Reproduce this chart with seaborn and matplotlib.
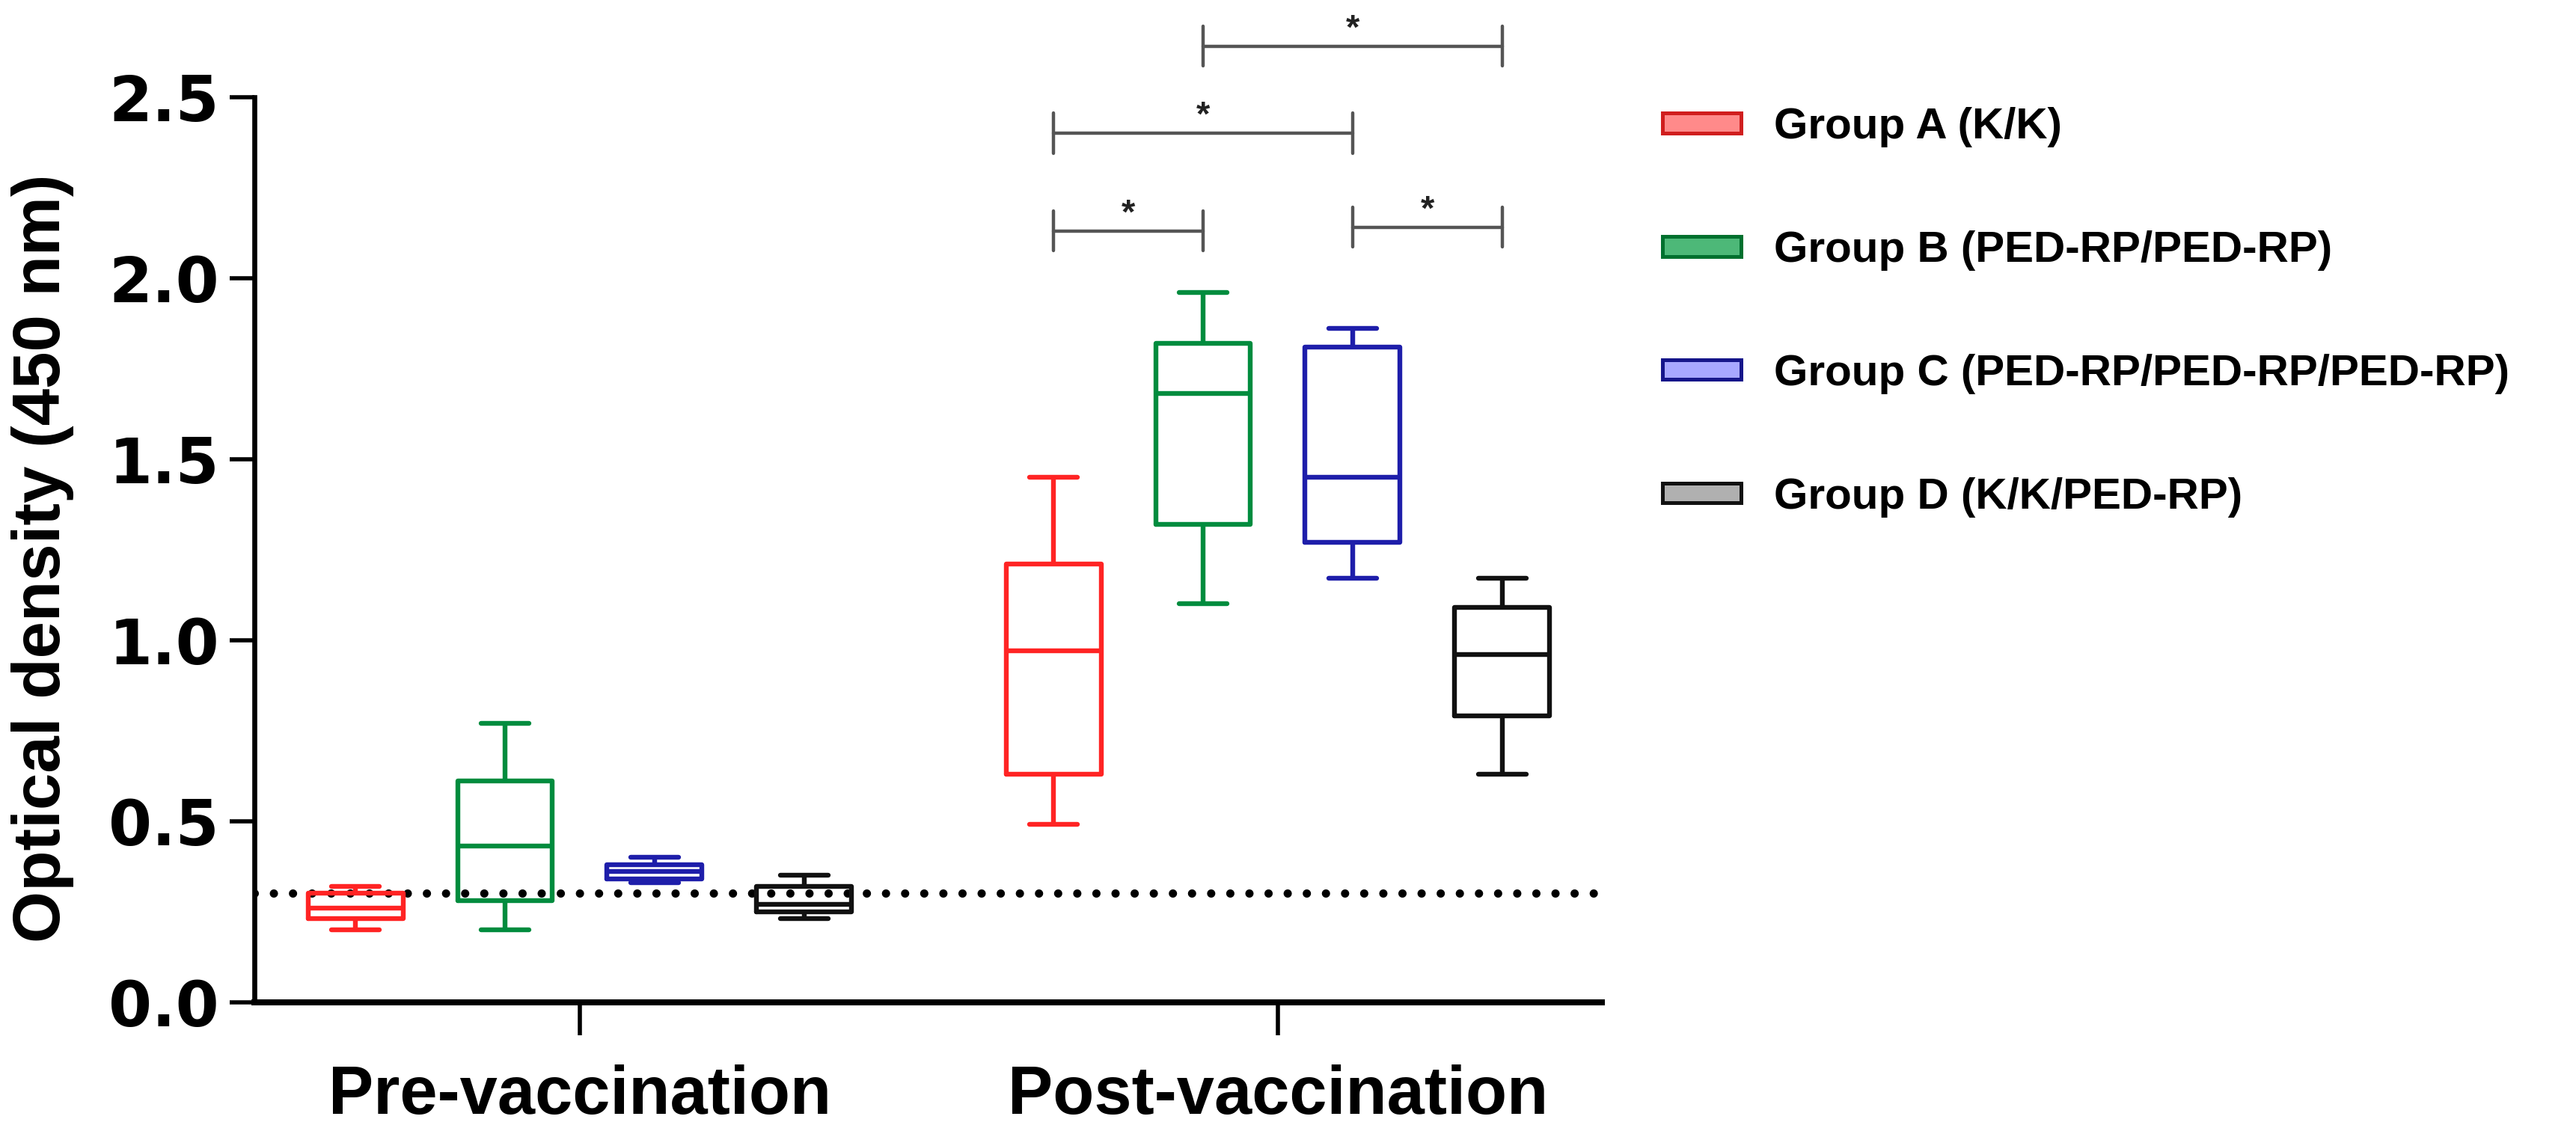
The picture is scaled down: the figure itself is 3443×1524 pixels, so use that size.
import numpy as np
import pandas as pd
import matplotlib
matplotlib.use("Agg")
import matplotlib.pyplot as plt
from matplotlib.patches import Patch
import seaborn as sns

# ---------------- data (five-number summaries) ----------------
time_points = ["Pre-vaccination", "Post-vaccination"]
groups = ["Group A (K/K)", "Group B (PED-RP/PED-RP)",
          "Group C (PED-RP/PED-RP/PED-RP)", "Group D (K/K/PED-RP)"]

# [min, Q1, median, Q3, max]
pre_A = [0.20, 0.23, 0.26, 0.30, 0.32]
pre_B = [0.20, 0.28, 0.43, 0.61, 0.77]
pre_C = [0.33, 0.34, 0.36, 0.38, 0.40]
pre_D = [0.23, 0.25, 0.27, 0.32, 0.35]
post_A = [0.49, 0.63, 0.97, 1.21, 1.45]
post_B = [1.10, 1.32, 1.68, 1.82, 1.96]
post_C = [1.17, 1.27, 1.45, 1.81, 1.86]
post_D = [0.63, 0.79, 0.96, 1.09, 1.17]

cutoff = 0.3

# significance comparisons (post-vaccination): (group i, group j, bar height)
sig_pairs = [(0, 1, 2.13), (2, 3, 2.14), (0, 2, 2.40), (1, 3, 2.64)]
sig_label = "*"

colors = ["#FF2424", "#008C3E", "#1E1EAA", "#111111"]
legend_faces = ["#FF8A8A", "#4DB878", "#A8A8FF", "#B0B0B0"]
legend_edges = ["#D01E1E", "#00702E", "#16168A", "#111111"]

# ---------------- long-form table ----------------
series = {
    ("Pre-vaccination", groups[0]): pre_A,
    ("Pre-vaccination", groups[1]): pre_B,
    ("Pre-vaccination", groups[2]): pre_C,
    ("Pre-vaccination", groups[3]): pre_D,
    ("Post-vaccination", groups[0]): post_A,
    ("Post-vaccination", groups[1]): post_B,
    ("Post-vaccination", groups[2]): post_C,
    ("Post-vaccination", groups[3]): post_D,
}
rows = []
for (tp, g), vals in series.items():
    for v in vals:
        rows.append({"time": tp, "group": g, "od": v})
df = pd.DataFrame(rows)

# ---------------- style ----------------
sns.set_style("ticks")
plt.rcParams["font.family"] = ["Liberation Sans", "DejaVu Sans"]
plt.rcParams["font.weight"] = "bold"
plt.rcParams["text.color"] = "black"
plt.rcParams["axes.labelcolor"] = "black"
plt.rcParams["xtick.color"] = "black"
plt.rcParams["ytick.color"] = "black"
plt.rcParams["axes.edgecolor"] = "black"

fig = plt.figure(figsize=(3443 / 200, 1524 / 200), dpi=200)
ax = fig.add_axes([0.0988, 0.121, 0.523, 0.794])

total_width = 0.857
sns.boxplot(data=df, x="time", y="od", hue="group",
            order=time_points, hue_order=groups, palette=colors,
            fill=False, whis=(0, 100), showfliers=False,
            width=total_width, gap=0.365, linewidth=2.3,
            legend=False, ax=ax)

# cutoff line
ax.axhline(cutoff, color="black", linestyle=(0, (0.001, 2.3)), linewidth=4.0,
           dash_capstyle="round", zorder=1)

# significance bars
slot = total_width / len(groups)
def gx(cat_idx, g_idx):
    return cat_idx - total_width / 2 + slot * (g_idx + 0.5)

tick_h = 0.055
for i, j, h in sig_pairs:
    x1, x2 = gx(1, i), gx(1, j)
    ax.plot([x1, x2], [h, h], color="#555555", lw=1.6, clip_on=False)
    ax.plot([x1, x1], [h - tick_h, h + tick_h], color="#555555", lw=1.6, clip_on=False)
    ax.plot([x2, x2], [h - tick_h, h + tick_h], color="#555555", lw=1.6, clip_on=False)
    ax.text((x1 + x2) / 2, h + 0.0, sig_label, ha="center", va="bottom",
            fontsize=17, color="#222222", clip_on=False)

# axes
ax.set_xlim(-0.466, 1.464)
ax.set_ylim(0, 2.5)
ax.set_yticks(np.arange(0, 2.51, 0.5))
ax.set_yticklabels([f"{v:.1f}" for v in np.arange(0, 2.51, 0.5)],
                   fontfamily="DejaVu Sans", fontweight="bold", fontsize=30)
ax.set_xticks([0, 1])
ax.set_xticklabels(time_points, fontsize=32.5, fontweight="bold")
ax.set_xlabel("")
ax.set_ylabel("Optical density (450 nm)", fontsize=32, fontweight="bold")
ax.yaxis.set_label_coords(-0.134, 0.49)

for s in ["top", "right"]:
    ax.spines[s].set_visible(False)
ax.spines["left"].set_linewidth(2.4)
ax.spines["bottom"].set_linewidth(2.9)
ax.tick_params(axis="y", length=12, width=2.0, pad=5)
ax.tick_params(axis="x", length=16, width=2.0, pad=14)

# legend
handles = [Patch(facecolor=f, edgecolor=e, linewidth=1.8) for f, e in zip(legend_faces, legend_edges)]
fig.legend(handles, groups, loc="upper left", bbox_to_anchor=(0.637, 0.925),
           frameon=False, prop={"weight": "bold", "size": 21},
           handlelength=1.8, handleheight=0.32, handletextpad=0.75,
           labelspacing=1.9, borderpad=0)

fig.savefig("out.png", dpi=200)
